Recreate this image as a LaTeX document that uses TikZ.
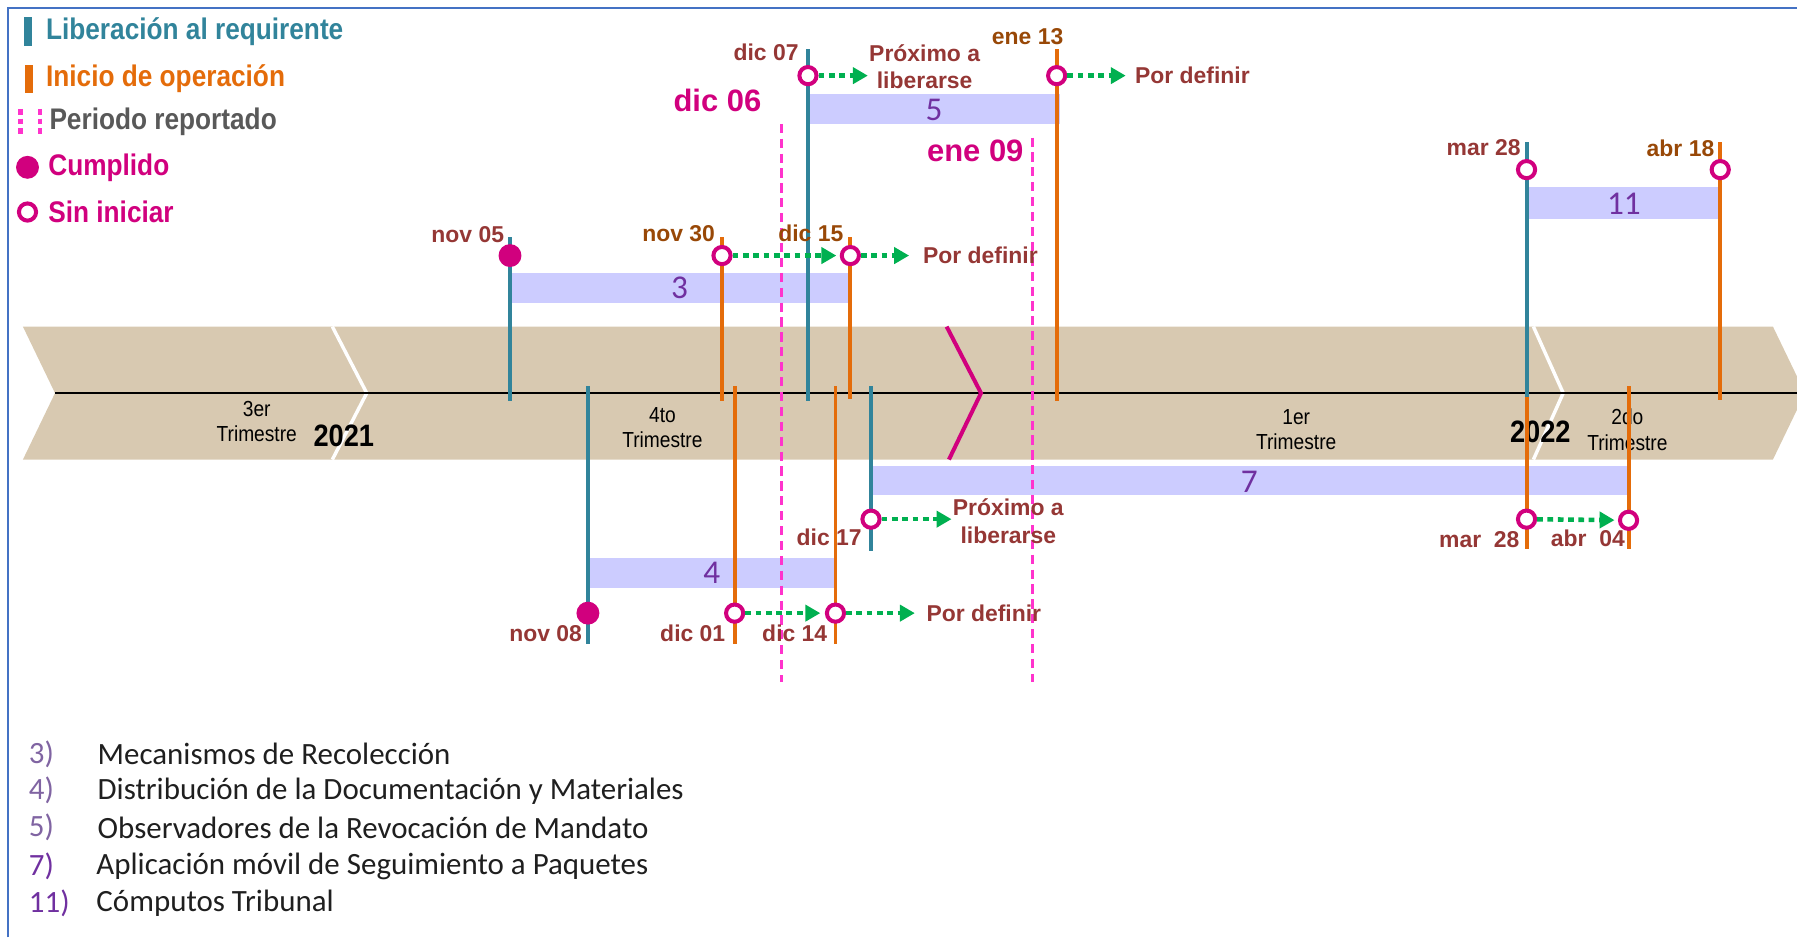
\documentclass[tikz,border=0pt]{standalone}
\usepackage{fontspec}
\setmainfont{Liberation Sans}
\newfontfamily\angosta{Liberation Sans}[FakeStretch=0.88]
\newfontfamily\calibri{Carlito}
\usepackage{xcolor}
\usepackage{tikz}
\usetikzlibrary{positioning, arrows.meta}

\definecolor{azulmarco}{HTML}{4472C4}
\definecolor{libera}{HTML}{31849B}
\definecolor{inicio}{HTML}{E46C0A}
\definecolor{rojofecha}{HTML}{953735}
\definecolor{cafefecha}{HTML}{984807}
\definecolor{hito}{HTML}{D1007E}
\definecolor{periodo}{HTML}{FF33CC}
\definecolor{verdeflecha}{HTML}{00B050}
\definecolor{lila}{HTML}{CCCCFF}
\definecolor{morado}{HTML}{7030A0}
\definecolor{moradoclaro}{HTML}{8064A2}
\definecolor{arena}{HTML}{D8C9B1}
\definecolor{grisleyenda}{HTML}{595959}

\begin{document}
\begin{tikzpicture}[
  x=1pt, y=-1pt,
  leyenda/.style={font=\angosta\bfseries\fontsize{26}{30}\selectfont, anchor=west, inner sep=0pt},
  trimestre/.style={font=\angosta\fontsize{19}{22}\selectfont, align=center, inner sep=0pt},
  anio/.style={font=\angosta\bfseries\fontsize{27}{30}\selectfont, inner sep=0pt},
  fecha/.style={font=\bfseries\fontsize{20}{24}\selectfont, text=rojofecha, anchor=east, inner sep=0pt},
  fechaop/.style={fecha, text=cafefecha},
  nota/.style={font=\bfseries\fontsize{20}{24}\selectfont, text=rojofecha, align=center, inner sep=0pt},
  corte/.style={font=\bfseries\fontsize{27}{30}\selectfont, text=hito, inner sep=0pt},
  abierto/.style={circle, draw=hito, line width=3.5pt, fill=white, minimum size=15pt, inner sep=0pt},
  cumplido/.style={circle, fill=hito, minimum size=20pt, inner sep=0pt},
  flecha/.style={draw=verdeflecha, line width=4pt, dash pattern=on 5pt off 4pt, -{Triangle[length=13pt,width=14pt]}},
  tallolib/.style={draw=libera, line width=3.4pt},
  talloini/.style={draw=inicio, line width=3.4pt},
  barra/.style={fill=lila},
  numbarra/.style={font=\calibri\fontsize{29}{29}\selectfont, text=morado, inner sep=0pt},
  reporte/.style={draw=periodo, line width=2.5pt, dash pattern=on 8pt off 5pt},
  entrada/.style={font=\calibri\fontsize{27}{30}\selectfont, text=black!88, anchor=west, inner sep=0pt},
  entradanum/.style={entrada, text=moradoclaro}
]
\useasboundingbox (0,0) rectangle (1568,818);

% Frame
\draw[azulmarco, line width=2.5pt] (7,818) -- (7,7) -- (1568,7);

% Time band
\fill[arena] (20,285) -- (1547,285) -- (1575,343) -- (1547,401) -- (20,401) -- (48,343) -- cycle;
\draw[white, line width=3pt] (290,285) -- (320,343) -- (290,401);
\draw[white, line width=3pt] (1338,285) -- (1364,343) -- (1338,401);
\draw[line width=2.2pt] (48,343) -- (1575,343);
\draw[hito, line width=3.5pt] (826,285) -- (856,343) -- (828,401);

\node[trimestre] (t3) at (224,368) {3er\\Trimestre};
\node[anio] (a21) at (300,380) {2021};
\node[trimestre] (t4) at (578,373) {4to\\Trimestre};
\node[trimestre] (t1) at (1131,375) {1er\\Trimestre};
\node[anio] (a22) at (1344,377) {2022};
\node[trimestre] (t2) at (1420,375) {2do\\Trimestre};

% Bars
\fill[barra] (445,238) rectangle (742,264);
\fill[barra] (705,82) rectangle (925,108);
\fill[barra] (1332,163) rectangle (1501,191);
\fill[barra] (513,487) rectangle (729,513);
\fill[barra] (760,407) rectangle (1421,432);
\node[numbarra] (n3) at (593,251) {3};
\node[numbarra] (n5) at (815,96) {5};
\node[numbarra] (n11) at (1417,178) {11};
\node[numbarra] (n4) at (621,500) {4};
\node[numbarra] (n7) at (1090,420) {7};

% Stems below
\draw[tallolib] (513,337) -- (513,562);
\draw[talloini] (641,337) -- (641,562);
\draw[talloini] (729,337) -- (729,562);
\draw[tallolib] (760,337) -- (760,481);
\draw[talloini] (1332,337) -- (1332,479);
\draw[talloini] (1421,337) -- (1421,479);

% Stems above
\draw[tallolib] (445,207) -- (445,350);
\draw[talloini] (630,207) -- (630,350);
\draw[talloini] (742,207) -- (742,348);
\draw[tallolib] (705,43) -- (705,350);
\draw[talloini] (922,43) -- (922,350);
\draw[tallolib] (1332,124) -- (1332,346);
\draw[talloini] (1501,124) -- (1501,349);

% Reported period
\draw[reporte] (682,108) -- (682,595);
\draw[reporte] (901,120) -- (901,595);
\node[corte] (d06) at (626,88) {dic 06};
\node[corte] (e09) at (851,132) {ene 09};

% Markers
\node[cumplido] (c05) at (445,223) {};
\node[abierto] (c30) at (630,223) {};
\node[abierto] (c15) at (742,223) {};
\node[abierto] (c07) at (705,66) {};
\node[abierto] (c13) at (922,66) {};
\node[abierto] (c28a) at (1332,148) {};
\node[abierto] (c18) at (1501,148) {};
\node[cumplido] (c08) at (513,535) {};
\node[abierto] (c01) at (641,535) {};
\node[abierto] (c14) at (729,535) {};
\node[abierto] (c17) at (760,453) {};
\node[abierto] (c28b) at (1332,453) {};
\node[abierto] (c04) at (1421,454) {};

% Dates
\node[fecha] (f05) at (440,205) {nov 05};
\node[fechaop] (f30) at (624,204) {nov 30};
\node[fechaop] (f15) at (736,204) {dic 15};
\node[fecha] (f07) at (697,46) {dic 07};
\node[fechaop] (f13) at (928,32) {ene 13};
\node[fecha] (f28a) at (1327,129) {mar 28};
\node[fechaop] (f18) at (1496,129) {abr 18};
\node[fecha] (f08) at (508,553) {nov 08};
\node[fecha] (f01) at (633,553) {dic 01};
\node[fecha] (f14) at (722,553) {dic 14};
\node[fecha] (f17) at (752,469) {dic 17};
\node[fecha] (f28b) at (1326,471) {mar\ \ 28};
\node[fecha] (f04) at (1418,470) {abr\ \ 04};

% Notes
\node[nota, right=54pt of c15] (pd3) {Por definir};
\node[nota, right=44pt of c07, yshift=8pt] (px5) {Próximo a\\liberarse};
\node[nota, right=59pt of c13] (pd5) {Por definir};
\node[nota, right=70pt of c14] (pd4) {Por definir};
\node[nota, right=62pt of c17, yshift=-2pt] (px7) {Próximo a\\liberarse};

% Connections
\draw[flecha, shorten >=3pt] (c30) -- (c15);
\draw[flecha, shorten >=12pt] (c15) -- (pd3);
\draw[flecha, shorten >=1pt] (c07) -- (c07 -| px5.west);
\draw[flecha, shorten >=8pt] (c13) -- (pd5);
\draw[flecha, shorten >=4pt] (c01) -- (c14);
\draw[flecha, shorten >=10pt] (c14) -- (pd4);
\draw[flecha, shorten >=1pt] (c17) -- (c17 -| px7.west);
\draw[flecha, shorten >=3pt] (c28b) -- (c04);

% Legend
\fill[libera] (21,15) rectangle (28,40);
\node[leyenda, text=libera] (lg1) at (40,28) {Liberación al requirente};
\fill[inicio] (22,57) rectangle (29,81);
\node[leyenda, text=inicio] (lg2) at (40,69) {Inicio de operación};
\draw[periodo, line width=4pt, dash pattern=on 5pt off 3.5pt] (18,95) -- (18,118);
\draw[periodo, line width=4pt, dash pattern=on 5pt off 3.5pt] (35,95) -- (35,118);
\node[leyenda, text=grisleyenda] (lg3) at (43,106) {Periodo reportado};
\node[cumplido] (lgc) at (24,146) {};
\node[leyenda, text=hito] (lg4) at (42,146) {Cumplido};
\node[abierto] (lga) at (24,185) {};
\node[leyenda, text=hito] (lg5) at (42,185) {Sin iniciar};

% Project list
\node[entradanum] (k3) at (25,658) {3)};
\node[entrada] (e3) at (85,658) {Mecanismos de Recolección};
\node[entradanum] (k4) at (25,690) {4)};
\node[entrada] (e4) at (85,690) {Distribución de la Documentación y Materiales};
\node[entradanum] (k5) at (25,722) {5)};
\node[entrada] (e5) at (85,722) {Observadores de la Revocación de Mandato};
\node[entradanum, text=morado] (k7) at (25,756) {7)};
\node[entrada] (e7) at (84,756) {Aplicación móvil de Seguimiento a Paquetes};
\node[entradanum, text=morado] (k11) at (25,788) {11)};
\node[entrada] (e11) at (84,788) {Cómputos Tribunal};

\end{tikzpicture}
\end{document}
